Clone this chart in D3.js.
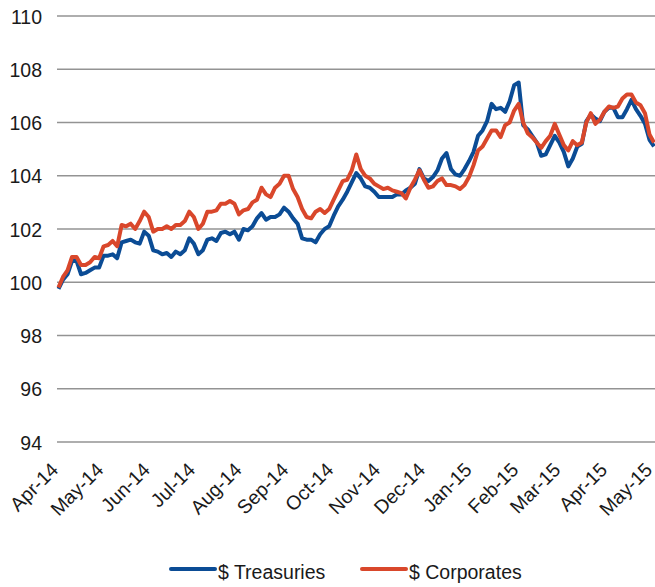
<!DOCTYPE html>
<html>
<head>
<meta charset="utf-8">
<script src="https://cdn.jsdelivr.net/npm/d3@7/dist/d3.min.js"></script>
<style>
    body { margin: 0; background: #fff; }
    svg text { font-family: "Liberation Sans", Arial, sans-serif; fill: #1a1a1a; }
</style>
</head>
<body>
<svg id="chart" width="655" height="587"></svg>
<script>

// dates of the samples (every 3 days)
let dates = [
    "2014-03-31","2014-04-03","2014-04-06","2014-04-09","2014-04-12","2014-04-15","2014-04-18","2014-04-21","2014-04-24","2014-04-27",
    "2014-04-30","2014-05-03","2014-05-06","2014-05-09","2014-05-12","2014-05-15","2014-05-18","2014-05-21","2014-05-24","2014-05-27",
    "2014-05-30","2014-06-02","2014-06-05","2014-06-08","2014-06-11","2014-06-14","2014-06-17","2014-06-20","2014-06-23","2014-06-26",
    "2014-06-29","2014-07-02","2014-07-05","2014-07-08","2014-07-11","2014-07-14","2014-07-17","2014-07-20","2014-07-23","2014-07-26",
    "2014-07-29","2014-08-01","2014-08-04","2014-08-07","2014-08-10","2014-08-13","2014-08-16","2014-08-19","2014-08-22","2014-08-25",
    "2014-08-28","2014-08-31","2014-09-03","2014-09-06","2014-09-09","2014-09-12","2014-09-15","2014-09-18","2014-09-21","2014-09-24",
    "2014-09-27","2014-09-30","2014-10-03","2014-10-06","2014-10-09","2014-10-12","2014-10-15","2014-10-18","2014-10-21","2014-10-24",
    "2014-10-27","2014-10-30","2014-11-02","2014-11-05","2014-11-08","2014-11-11","2014-11-14","2014-11-17","2014-11-20","2014-11-23",
    "2014-11-26","2014-11-29","2014-12-02","2014-12-05","2014-12-08","2014-12-11","2014-12-14","2014-12-17","2014-12-20","2014-12-23",
    "2014-12-26","2014-12-29","2015-01-01","2015-01-04","2015-01-07","2015-01-10","2015-01-13","2015-01-16","2015-01-19","2015-01-22",
    "2015-01-25","2015-01-28","2015-01-31","2015-02-03","2015-02-06","2015-02-09","2015-02-12","2015-02-15","2015-02-18","2015-02-21",
    "2015-02-24","2015-02-27","2015-03-02","2015-03-05","2015-03-08","2015-03-11","2015-03-14","2015-03-17","2015-03-20","2015-03-23",
    "2015-03-26","2015-03-29","2015-04-01","2015-04-04","2015-04-07","2015-04-10","2015-04-13","2015-04-16","2015-04-19","2015-04-22",
    "2015-04-25","2015-04-28","2015-05-01"
];

// $ Treasuries index
let treasuries = [
    99.75,100.1,100.3,100.8,100.8,100.3,100.35,100.45,100.55,100.55,
    101.0,101.0,101.05,100.9,101.5,101.55,101.6,101.5,101.45,101.9,
    101.75,101.2,101.15,101.05,101.1,100.95,101.15,101.05,101.2,101.65,
    101.45,101.05,101.2,101.6,101.65,101.55,101.85,101.9,101.8,101.9,
    101.6,102.0,101.95,102.1,102.4,102.6,102.35,102.45,102.45,102.55,
    102.8,102.65,102.4,102.2,101.65,101.6,101.6,101.5,101.8,102.0,
    102.1,102.5,102.85,103.1,103.4,103.75,104.1,103.9,103.6,103.55,
    103.4,103.2,103.2,103.2,103.2,103.3,103.3,103.45,103.55,103.7,
    104.25,103.9,103.8,103.95,104.2,104.65,104.85,104.25,104.05,104.0,
    104.25,104.55,104.9,105.5,105.7,106.05,106.7,106.5,106.55,106.4,
    106.8,107.4,107.5,105.9,105.75,105.5,105.25,104.75,104.8,105.15,
    105.5,105.25,104.9,104.35,104.65,105.1,105.2,106.05,106.3,106.15,
    106.05,106.4,106.55,106.55,106.2,106.2,106.5,106.85,106.5,106.25,
    105.95,105.35,105.1
];

// $ Corporates index
let corporates = [
    99.8,100.2,100.45,100.95,100.95,100.65,100.65,100.75,100.95,100.9,
    101.35,101.4,101.55,101.35,102.15,102.1,102.2,102.0,102.3,102.65,
    102.45,101.9,102.0,102.0,102.1,102.0,102.15,102.15,102.3,102.65,
    102.45,102.0,102.2,102.65,102.65,102.7,102.95,102.95,103.05,102.95,
    102.55,102.7,102.75,103.0,103.1,103.55,103.3,103.2,103.55,103.7,
    104.0,104.0,103.5,103.2,102.75,102.45,102.4,102.65,102.75,102.6,
    102.75,103.1,103.45,103.8,103.85,104.2,104.8,104.25,104.0,103.9,
    103.7,103.6,103.5,103.55,103.45,103.4,103.35,103.15,103.55,103.85,
    104.2,103.85,103.55,103.6,103.8,103.9,103.65,103.65,103.6,103.5,
    103.65,103.95,104.4,104.95,105.1,105.4,105.7,105.7,105.45,105.9,
    106.0,106.45,106.7,106.0,105.6,105.45,105.25,105.05,105.3,105.5,
    105.95,105.55,105.15,104.95,105.3,105.15,105.25,106.0,106.35,105.95,
    106.1,106.4,106.6,106.55,106.6,106.9,107.05,107.05,106.75,106.65,
    106.35,105.55,105.25
];

let yTicks = [94, 96, 98, 100, 102, 104, 106, 108, 110];
let seriesNames = ["$ Treasuries", "$ Corporates"];
let seriesColors = ["#0b4c95", "#d9472b"];

let parseDate = d3.timeParse("%Y-%m-%d");
let svg = d3.select("#chart");

let x = d3.scaleTime()
    .domain([new Date(2014, 3, 1), new Date(2015, 4, 1)])
    .range([60, 654]);

let y = d3.scaleLinear()
    .domain([94, 110])
    .range([442, 16]);

//gridlines
svg.append("g").selectAll("line")
    .data(yTicks)
    .enter().append("line")
    .attr("x1", 57)
    .attr("x2", 655)
    .attr("y1", d => y(d))
    .attr("y2", d => y(d))
    .attr("stroke", "#939393")
    .attr("stroke-width", 1.6);

// y labels
let yAxis = svg.append("g")
    .attr("transform", "translate(42,0)")
    .call(d3.axisLeft(y).tickValues(yTicks).tickSize(0).tickPadding(0));
yAxis.select(".domain").remove();
yAxis.selectAll("text")
    .style("font-size", "19.5px")
    .attr("dy", "0.36em");

// x labels, rotated
let months = d3.timeMonth.range(new Date(2014, 3, 1), new Date(2015, 4, 2));
let xAxis = svg.append("g")
    .attr("transform", "translate(0,471)")
    .call(d3.axisBottom(x).tickValues(months).tickFormat(d3.timeFormat("%b-%y")).tickSize(0).tickPadding(0));
xAxis.select(".domain").remove();
xAxis.selectAll("text")
    .style("font-size", "19.5px")
    .attr("text-anchor", "end")
    .attr("y", 0)
    .attr("dy", 0)
    .attr("transform", "translate(-1,0) rotate(-45)");

// lines
let series = [treasuries, corporates];
let line = d3.line()
    .x((d, i) => x(parseDate(dates[i])))
    .y(d => y(d));

svg.append("g").selectAll("path")
    .data(series)
    .enter().append("path")
    .attr("d", d => line(d))
    .attr("fill", "none")
    .attr("stroke", (d, i) => seriesColors[i])
    .attr("stroke-width", 4)
    .attr("stroke-linejoin", "round");

// legend
let legendX = [171, 362];
let legend = svg.append("g").selectAll("g")
    .data(seriesNames)
    .enter().append("g")
    .attr("transform", (d, i) => "translate(" + legendX[i] + ",569)");

legend.append("line")
    .attr("x1", 0)
    .attr("x2", 44)
    .attr("stroke", (d, i) => seriesColors[i])
    .attr("stroke-width", 4)
    .attr("stroke-linecap", "round");

legend.append("text")
    .attr("x", 47)
    .attr("y", 10)
    .style("font-size", "19.5px")
    .text(d => d);

</script>
</body>
</html>
